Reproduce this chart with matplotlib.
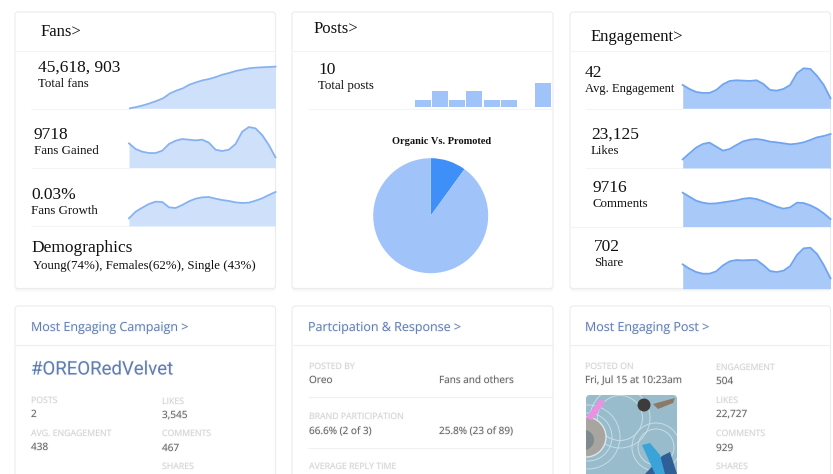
import numpy as np
import matplotlib
matplotlib.use("Agg")
import matplotlib.pyplot as plt
import matplotlib.patheffects as pe
from matplotlib.patches import FancyBboxPatch, Circle, Polygon

W, H = 833, 474
SERIF = "Liberation Serif"
SANS = "Open Sans"

total_fans = [0, 4, 9, 15, 22, 30, 44, 53, 60, 71, 78, 84, 88, 94, 101, 106, 112, 116, 120, 122, 123, 124, 125]
fans_gained = [73, 56, 48, 44, 44, 51, 71, 81, 86, 84, 82, 84, 75, 54, 50, 54, 71, 108, 122, 118, 98, 68, 31]
fans_growth = [23, 43, 55, 66, 73, 72, 56, 54, 63, 74, 82, 86, 87, 82, 78, 75, 71, 69, 70, 76, 83, 93, 102]
avg_engagement = [70, 58, 49, 46, 46, 55, 72, 82, 84, 83, 82, 84, 73, 55, 53, 58, 70, 105, 120, 118, 97, 70, 30]
likes = [26, 44, 61, 72, 76, 64, 52, 57, 69, 80, 85, 87, 84, 79, 77, 74, 71, 73, 77, 84, 92, 96, 102]
comments = [102, 90, 78, 72, 69, 70, 73, 76, 79, 84, 86, 83, 76, 68, 60, 54, 58, 72, 71, 64, 54, 40, 23]
share = [73, 60, 50, 45, 45, 52, 70, 82, 86, 85, 86, 86, 71, 53, 50, 54, 68, 101, 121, 123, 104, 71, 31]
posts_per_slot = [23, 49, 23, 49, 23, 23, 0, 72]
organic_vs_promoted = [10, 90]

fig = plt.figure(figsize=(W / 100, H / 100), dpi=100, facecolor="white")
bg = fig.add_axes([0, 0, 1, 1])
bg.set_xlim(0, W)
bg.set_ylim(H, 0)
bg.axis("off")


def card(x0, x1, y0, y1):
    for off, a in ((4, 0.015), (3, 0.025), (2, 0.03)):
        bg.add_patch(FancyBboxPatch((x0, y0 + off), x1 - x0, y1 - y0, boxstyle="round,pad=0,rounding_size=3",
                                    fc="#888888", ec="none", alpha=a, zorder=1))
    bg.add_patch(FancyBboxPatch((x0, y0), x1 - x0, y1 - y0, boxstyle="round,pad=0,rounding_size=3",
                                fc="white", ec="#ececec", lw=0.8, zorder=2))


def hline(x0, x1, y, c="#f4f4f4"):
    bg.plot([x0, x1], [y, y], color=c, lw=0.8, zorder=3, solid_capstyle="butt")


def txt(x, y, s, size, c="#111111", fam=SERIF, **kw):
    blur = fam != SERIF
    t = bg.text(x, y + (1.5 if blur else 1), s, fontsize=size, color=c, family=fam, va="center",
                ha=kw.pop("ha", "left"), zorder=6, **kw)
    if blur:
        t.set_path_effects([pe.withStroke(linewidth=1.2, foreground=c, alpha=0.07)])


def pixel_axes(x0, x1, top, base):
    ax = fig.add_axes([x0 / W, 1 - base / H, (x1 - x0) / W, (base - top) / H])
    ax.axis("off")
    ax.patch.set_alpha(0)
    return ax


def spark(vals, x0, x1, base, fill, line):
    ax = pixel_axes(x0, x1, base - 50, base)
    xs = np.arange(len(vals))
    ax.fill_between(xs, 0, vals, color=fill, lw=0)
    ax.plot(xs, vals, color=line, lw=1.3, solid_joinstyle="round", clip_on=False)
    ax.set_xlim(0, len(vals) - 1)
    ax.set_ylim(0, 150)


# cards
for x0, x1 in ((15, 275.5), (292, 553), (570, 830.5)):
    card(x0, x1, 12, 288.5)
    card(x0, x1, 306, 490)
    hline(x0, x1, 50.5)
    hline(x0, x1, 345, "#eeeeee")

hline(31, 130, 108.5)
hline(31, 130, 168)
hline(31, 130, 226)
hline(308, 553, 108.5)
hline(585, 683, 108.5)
hline(585, 683, 168)
hline(570, 683, 226.5)
hline(308, 553, 397, "#f0f0f0")
hline(308, 553, 448, "#f0f0f0")

# sparklines
LF, LL = "#cfe0fb", "#86b2f2"
RF, RL = "#a9c9f9", "#6fa4f0"
spark(total_fans, 130, 275.5, 108.3, LF, LL)
spark(fans_gained, 129, 275.5, 167.7, LF, LL)
spark(fans_growth, 129, 275.5, 226, LF, LL)
spark(avg_engagement, 682.7, 830.5, 108.3, RF, RL)
spark(likes, 682.7, 830.5, 168, RF, RL)
spark(comments, 682.7, 830.5, 226.7, RF, RL)
spark(share, 682.7, 830.5, 288.7, RF, RL)

# posts bars
bx = pixel_axes(414, 552, 57, 107.3)
bx.bar(np.arange(len(posts_per_slot)), posts_per_slot, width=0.93, color="#a0c4fa", lw=0)
bx.set_xlim(-0.5, 7.5)
bx.set_ylim(0, 150)

# pie
px = pixel_axes(373.2, 488.2, 158.2, 273.2)
px.pie(organic_vs_promoted, colors=["#3f8ff8", "#a0c4fa"], startangle=90, counterclock=False, radius=1)
px.set_xlim(-1, 1)
px.set_ylim(-1, 1)

# top row text
HEAD, NUM, SUB = 12, 12.5, 9.3
txt(41, 31, "Fans>", HEAD)
txt(38, 67, "45,618, 903", NUM)
txt(38, 83, "Total fans", SUB)
txt(34, 134, "9718", NUM)
txt(34, 150, "Fans Gained", SUB)
txt(31, 194, "0.03%", NUM)
txt(31, 210, "Fans Growth", SUB)
txt(31, 247, "Demographics", NUM)
txt(33, 265, "Young(74%), Females(62%), Single (43%)", SUB)

txt(314, 28, "Posts>", HEAD)
txt(318, 69, "10", NUM)
txt(318, 85, "Total posts", SUB)
txt(441.5, 140, "Organic Vs. Promoted", 7.5, ha="center", fontweight="bold")

txt(591, 36, "Engagement>", HEAD)
txt(585, 72, "42", NUM)
txt(585, 88, "Avg. Engagement", SUB - 0.3)
txt(591, 134, "23,125", NUM)
txt(591, 150, "Likes", SUB)
txt(593, 187, "9716", NUM)
txt(593, 203, "Comments", SUB)
txt(594, 246, "702", NUM)
txt(594, 262, "Share", SUB)

# bottom row text
BLUE, GREY, DARK = "#5f7db3", "#d0d0d0", "#5c5c5c"
VAL, LAB = 7.2, 6.3
txt(31, 326, "Most Engaging Campaign >", 9, BLUE, SANS)
txt(31, 368, "#OREORedVelvet", 13.4, BLUE, "Roboto")
for x, y, s in ((31, 399, "POSTS"), (31, 432, "AVG. ENGAGEMENT"), (162, 400, "LIKES"), (162, 432, "COMMENTS"), (162, 465, "SHARES")):
    txt(x, y, s, LAB, GREY, SANS)
for x, y, s in ((31, 413, "2"), (31, 446, "438"), (162, 414, "3,545"), (162, 447, "467")):
    txt(x, y, s, VAL, DARK, SANS)

txt(308, 326, "Partcipation & Response >", 9, BLUE, SANS)
for y, s in ((365, "POSTED BY"), (415, "BRAND PARTICIPATION"), (465, "AVERAGE REPLY TIME")):
    txt(309, y, s, LAB, GREY, SANS)
for x, y, s in ((309, 379, "Oreo"), (439, 379, "Fans and others"), (309, 430, "66.6% (2 of 3)"), (439, 430, "25.8% (23 of 89)")):
    txt(x, y, s, VAL, DARK, SANS)

txt(585, 326, "Most Engaging Post >", 9, BLUE, SANS)
txt(585, 365, "POSTED ON", LAB, GREY, SANS)
txt(585, 379, "Fri, Jul 15 at 10:23am", VAL, DARK, SANS)
for y, s in ((366, "ENGAGEMENT"), (399, "LIKES"), (432, "COMMENTS"), (465, "SHARES")):
    txt(716, y, s, LAB, GREY, SANS)
for y, s in ((380, "504"), (413, "22,727"), (447, "929")):
    txt(716, y, s, VAL, DARK, SANS)

# post photo
clip = FancyBboxPatch((586, 395), 91, 85, boxstyle="round,pad=0,rounding_size=4", fc="#98bccb", ec="none", zorder=3)
bg.add_patch(clip)
extras = []
for cx, cy, r in ((588, 437, 32), (656, 447, 24), (620, 418, 30)):
    for rr in (r, r * 0.75):
        extras.append(Circle((cx, cy), rr, fc="none", ec="#c9dde5", lw=0.7, zorder=4))
extras.append(Circle((586, 437), 20, fc="#a8a5a0", ec="#dce6ea", lw=1, zorder=4.2))
extras.append(Circle((584, 440), 10, fc="#7d8a8e", ec="none", zorder=4.3))
extras.append(Circle((644, 405), 6.5, fc="#3d3c3b", ec="none", zorder=4.3))
extras.append(Polygon([(586, 418), (600, 399), (605, 402), (592, 420)], fc="#ee8fe4", ec="none", zorder=4.4))
extras.append(Polygon([(653, 404), (675, 398), (673, 403), (658, 409)], fc="#8c7a66", ec="none", zorder=4.3))
extras.append(Polygon([(642, 445), (650, 443), (660, 455), (665, 474), (655, 474)], fc="#3aa4d8", ec="none", zorder=4.4))
extras.append(Polygon([(662, 456), (670, 452), (677, 474), (645, 474)], fc="#2e5f96", ec="none", zorder=4.3))
for p in extras:
    bg.add_patch(p)
    p.set_clip_path(clip)

fig.savefig("out.png", dpi=100, facecolor="white")
